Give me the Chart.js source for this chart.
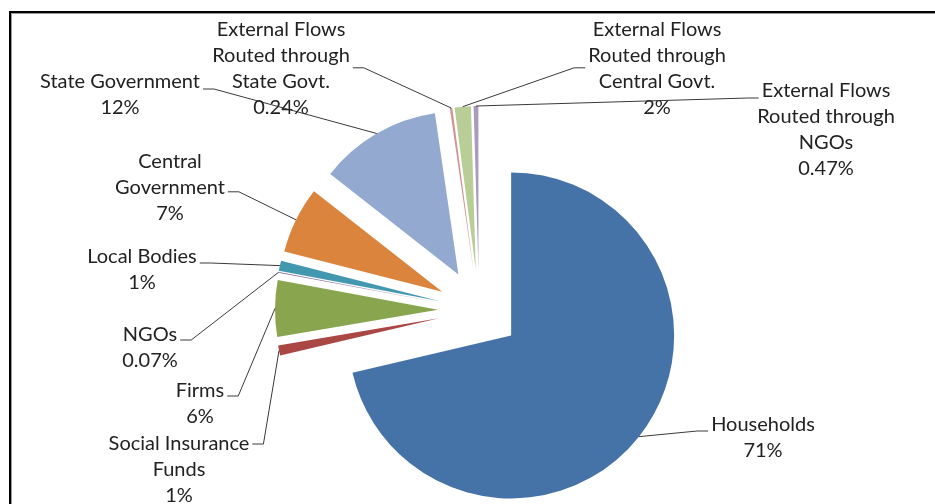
<!DOCTYPE html>
<html>
<head>
<meta charset="utf-8">
<script src="https://cdn.jsdelivr.net/npm/chart.js@4.4.1/dist/chart.umd.min.js"></script>
<style>
    html, body { margin: 0; padding: 0; background: #fff; overflow: hidden; }
    #wrap { position: relative; width: 935px; height: 504px; overflow: hidden; }
    #frame { position: absolute; left: 9px; top: 11px; width: 1000px; height: 600px;
             border: 2px solid #000; box-shadow: inset 1px 1px 0 #9a9a9a; }
    #pie { position: absolute; left: 0; top: 0; }
</style>
</head>
<body>
<div id="wrap">
    <div id="frame"></div>
    <canvas id="pie" width="935" height="504"></canvas>
</div>
<script>
// categories, in the order they go round the pie (clockwise from 12 o'clock)
const categories = [
    'Households',
    'Social Insurance\nFunds',
    'Firms',
    'NGOs',
    'Local Bodies',
    'Central\nGovernment',
    'State Government',
    'External Flows\nRouted through\nState Govt.',
    'External Flows\nRouted through\nCentral Govt.',
    'External Flows\nRouted through\nNGOs'
];
// share of total health expenditure, %
const shares = [71.32, 1.0, 5.6, 0.07, 1.0, 6.6, 12.1, 0.24, 1.6, 0.47];

const colors = ['#4572A7', '#AA4643', '#89A54E', '#71588F', '#4198AF',
                '#DB843D', '#93A9CF', '#D19392', '#B9CD96', '#A99BBD'];

// label layout: first line centre relative to pie centre, and where the leader attaches
const labelAt = [[284, 115], [-300, 134], [-279, 81], [-329, 25], [-337, -53],
                 [-309, -148], [-359, -228], [-198, -280], [178, -280], [347, -219]];
// [line index, side, dy from that line centre]
const leadAt = [[0, 'left', 6], [0, 'right', 0], [0, 'right', 5], [0, 'right', 5], [0, 'right', 6],
                [1, 'right', 4], [0, 'right', 7], [1, 'right', 12], [1, 'left', 12], [0, 'left', 7]];

const EXPLODE = 41;
const LINE_H = 25.8;
const FONT = '20px Lato';

function pctText(v, total) {
    const p = v / total * 100;
    return p >= 1 ? Math.round(p) + '%' : p.toFixed(2) + '%';
}

// draw slices pushed out along their middle angle (Chart.js offset shrinks thin slices)
const explodePlugin = {
    id: 'explode',
    beforeDatasetDraw(chart, args) {
        const ctx = chart.ctx;
        args.meta.data.forEach(arc => {
            const mid = (arc.startAngle + arc.endAngle) / 2;
            ctx.save();
            ctx.translate(Math.cos(mid) * EXPLODE, Math.sin(mid) * EXPLODE);
            arc.draw(ctx);
            ctx.restore();
        });
        return false;
    }
};

const labelPlugin = {
    id: 'sliceLabels',
    afterDatasetsDraw(chart) {
        const ctx = chart.ctx;
        const meta = chart.getDatasetMeta(0);
        const data = chart.data.datasets[0].data;
        const total = data.reduce((a, b) => a + b, 0);
        ctx.save();
        ctx.font = FONT;
        ctx.textAlign = 'center';
        ctx.textBaseline = 'middle';
        meta.data.forEach((arc, i) => {
            const mid = (arc.startAngle + arc.endAngle) / 2;
            const r = EXPLODE + arc.outerRadius;
            const px = arc.x + Math.cos(mid) * r;
            const py = arc.y + Math.sin(mid) * r;
            const lines = chart.data.labels[i].split('\n').concat(pctText(data[i], total));
            const cx = arc.x + labelAt[i][0];
            const cy = arc.y + labelAt[i][1];

            // leader line
            const [li, side, dy] = leadAt[i];
            const w = ctx.measureText(lines[li]).width;
            const ly = cy + li * LINE_H + dy;
            const sx = side === 'left' ? cx - w / 2 - 3 : cx + w / 2 + 3;
            const ex = side === 'left' ? sx - 11 : sx + 11;
            ctx.strokeStyle = '#3a3a3a';
            ctx.lineWidth = 1;
            ctx.beginPath();
            ctx.moveTo(sx, ly);
            ctx.lineTo(ex, ly);
            ctx.lineTo(px, py);
            ctx.stroke();

            ctx.fillStyle = '#222';
            lines.forEach((t, k) => ctx.fillText(t, cx, cy + k * LINE_H));
        });
        ctx.restore();
    }
};

new Chart(document.getElementById('pie'), {
    type: 'pie',
    data: {
        labels: categories,
        datasets: [{
            data: shares,
            backgroundColor: colors,
            borderWidth: 0
        }]
    },
    options: {
        responsive: false,
        animation: false,
        radius: 163,
        layout: { padding: { left: 23, right: 0, top: 120, bottom: 4 } },
        plugins: {
            legend: { display: false },
            tooltip: { enabled: false }
        }
    },
    plugins: [explodePlugin, labelPlugin]
});
</script>
</body>
</html>
